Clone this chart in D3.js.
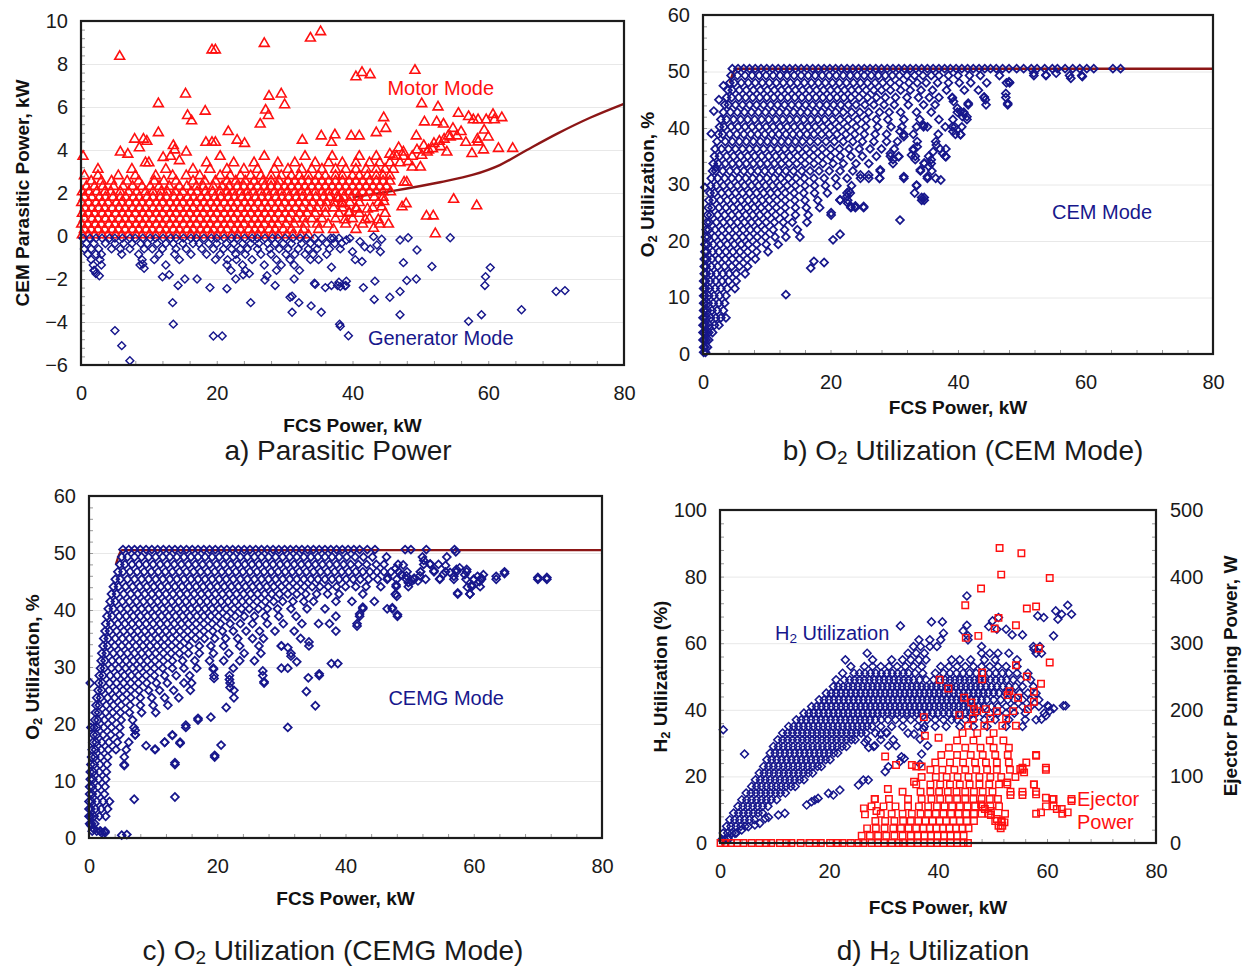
<!DOCTYPE html>
<html>
<head>
<meta charset="utf-8">
<script src="https://cdn.jsdelivr.net/npm/d3@7"></script>
<style>
  body { margin: 0; background: #fff; }
  svg { display: block; }
</style>
</head>
<body>
<div id="chart"></div>
<script>
// ---- tick values ----
const xTicks = [0, 20, 40, 60, 80];
const aYTicks = [-6, -4, -2, 0, 2, 4, 6, 8, 10];
const o2Ticks = [0, 10, 20, 30, 40, 50, 60];
const h2Ticks = [0, 20, 40, 60, 80, 100];
const ejTicks = [0, 100, 200, 300, 400, 500];

// ---- a) parasitic power ----
// model curve (visible part, the rest is buried in the cloud)
const aCurve = [[40,1.8],[46,2.1],[52.9,2.5],[57.8,2.85],[61.7,3.3],[65.7,4.0],[70.1,4.75],[75,5.5],[80,6.15]];
// motor mode, dense cloud read row by row: [y, [x...]]
const aMotorRows = [
  [0.05,[0.2,1.1,2.0,3.1,4.0,5.1,6.0,7.0,8.1,9.0,10.1,11.0,12.1,13.0,14.1,15.0,16.2,17.1,18.0,19.2,20.1,21.0,22.2,23.1,24.0,25.2,26.1,27.0,28.2,29.1,30.3,31.2,32.4,33.5]],
  [0.3,[0.5,1.5,2.5,3.5,4.6,5.5,6.5,7.6,8.5,9.6,10.5,11.6,12.5,13.6,14.5,15.6,16.5,17.6,18.6,19.5,20.6,21.5,22.6,23.5,24.7,25.6,26.5,27.7,28.6,29.8,31.0,32.8,35.0,37.2,40.5]],
  [0.55,[0.1,1.0,2.1,3.0,4.1,5.0,6.1,7.0,8.1,9.1,10.0,11.1,12.0,13.1,14.0,15.1,16.1,17.0,18.1,19.0,20.1,21.1,22.0,23.1,24.0,25.1,26.1,27.0,28.1,29.0,30.2,31.4,33.0,34.8,36.4,39.0,41.5,44.0]],
  [0.8,[0.5,1.6,2.5,3.6,4.5,5.6,6.5,7.5,8.6,9.5,10.6,11.5,12.6,13.5,14.6,15.5,16.6,17.5,18.6,19.5,20.6,21.6,22.5,23.6,24.5,25.6,26.5,27.6,28.5,29.6,30.6,31.7,32.8,34.0,35.5,37.5,40.0,42.5]],
  [1.05,[0.2,1.1,2.0,3.1,4.0,5.1,6.1,7.0,8.0,9.1,10.0,11.1,12.0,13.1,14.0,15.1,16.0,17.1,18.0,19.1,20.0,21.1,22.1,23.0,24.1,25.0,26.1,27.1,28.0,29.1,30.1,31.0,32.2,33.3,34.5,36.0,38.0,39.5,41.0,44.8]],
  [1.3,[0.6,1.6,2.6,3.5,4.6,5.6,6.5,7.6,8.6,9.5,10.6,11.5,12.6,13.6,14.5,15.6,16.5,17.6,18.5,19.6,20.5,21.6,22.5,23.6,24.6,25.5,26.6,27.5,28.6,29.5,30.6,31.6,32.6,33.7,34.8,36.0,37.2,38.5,40.5,43.0]],
  [1.55,[0.1,1.1,2.2,3.1,4.0,5.2,6.0,7.1,8.1,9.0,10.1,11.1,12.0,13.1,14.1,15.0,16.1,17.0,18.1,19.1,20.0,21.1,22.1,23.0,24.1,25.0,26.1,27.1,28.0,29.1,30.0,31.1,32.1,33.0,34.1,35.2,36.2,37.3,38.5,39.6,41.0,43.8]],
  [1.8,[0.5,1.6,2.7,3.6,4.7,5.8,6.6,7.7,8.6,9.7,10.6,11.7,12.6,13.7,14.6,15.7,16.6,17.7,18.6,19.7,20.6,21.7,22.6,23.7,24.6,25.7,26.6,27.6,28.7,29.6,30.6,31.7,32.6,33.7,34.6,35.7,36.6,37.7,38.7,39.8,40.8,42.0,43.2,44.5]],
  [2.05,[0.2,1.2,2.3,3.5,4.4,5.8,7.0,8.2,9.5,10.6,11.8,12.7,13.9,15.0,16.2,17.1,18.3,19.4,20.5,21.5,22.4,23.5,24.5,25.4,26.5,27.4,28.5,29.5,30.4,31.5,32.5,33.4,34.5,35.5,36.5,37.5,38.5,39.5,40.5,41.5,42.5,43.5,44.5,45.6]],
  [2.3,[0.8,2.0,3.2,4.8,6.2,7.6,9.0,10.2,11.5,13.0,14.5,15.6,17.0,18.0,19.5,20.8,21.8,23.0,24.0,25.0,26.0,27.0,28.0,29.0,30.0,31.0,32.0,33.0,34.0,35.0,36.0,37.0,38.0,39.0,40.0,41.0,42.0,43.0,44.0,45.0]],
  [2.55,[1.5,3.0,4.5,6.8,8.5,10.8,12.2,14.0,16.5,18.2,19.8,21.5,22.8,24.2,25.5,26.8,28.0,29.2,30.5,31.5,32.5,33.5,34.5,35.5,36.5,37.5,38.5,39.5,40.5,41.5,42.5,43.5,44.5,45.5]],
  [2.8,[0.5,2.5,5.5,8.0,11.0,13.5,15.5,17.5,20.5,22.0,23.5,25.0,26.5,28.0,29.5,31.0,32.2,33.5,35.0,36.0,37.5,38.5,40.0,41.0,42.2,43.5,44.5,45.5]],
  [3.1,[2.5,7.5,12.5,16.5,19.0,21.5,24.0,26.0,28.5,30.5,32.5,34.0,35.5,37.5,39.0,40.5,42.0,43.5,44.8,46.0]],
  [3.4,[10.0,18.5,22.5,25.5,29.0,31.5,34.5,36.5,38.5,40.5,42.5,44.0,45.5,47.0]],
  [3.7,[13.2,20.5,27.0,33.0,37.0,41.0,43.5,46.0,47.5]]
];
const aMotorPts = [[0.3,3.7],[5.7,8.35],[19.3,8.65],[19.8,8.65],[27,8.95],[33.8,9.2],[35.3,9.5],[40.5,7.4],[41.4,7.6],[42.6,7.5],[49.2,7.7],
  [15.4,6.6],[11.4,6.15],[15.7,5.6],[16.3,5.35],[18.3,5.8],[26.4,5.2],[27.2,5.85],[27.7,6.5],[27.6,5.6],[29.5,6.6],[30,6.1],
  [11.4,4.8],[7.9,4.5],[9.2,4.5],[9.7,4.4],[5.8,3.9],[6.9,3.8],[8.6,4.1],[21.7,4.85],[23,4.45],[24.1,4.3],[19.3,4.35],[19.8,4.35],[18.4,4.35],[13.6,4.2],[13.8,4.0],[14.5,3.5],[15.5,3.9],[12.1,3.65],[9.5,3.4],
  [35.4,4.65],[37.4,4.7],[36.9,4.35],[32.6,4.45],[39.8,4.65],[41,4.65],[43.5,4.8],[44.6,5.5],[44.9,5.0],[49.4,4.65],[50.2,6.15],[50.6,5.3],[52.6,6.0],[52.4,5.3],[53.4,5.2],[54.1,4.65],[55.4,4.65],
  [55.6,5.7],[57.1,5.55],[57.8,5.4],[58.5,5.4],[59.7,5.4],[60.7,5.65],[60.9,5.4],[62,5.5],[59.4,4.92],[60,4.6],[58.5,4.37],[57.6,3.83],[59.3,4.0],[61.5,4.07],[63.6,4.07],
  [56.7,4.35],[58.4,4.5],[54.8,5.0],[56,4.85],[51.8,4.05],[53,4.15],[53.9,3.9],[50,3.2],[48.2,3.45],[48.8,3.2],[47.6,2.5],[48,2.5],[54.9,1.7],[58.3,1.4],[50.9,0.92],[51.9,0.93],[52.2,0.1],
  [47.3,1.35],[47.9,1.5],[44.3,1.35],[44.6,1.6],[45.3,0.55],[43.1,0.35],[43.8,0.75],[42.2,1.25],[40.6,1.25],[39.5,1.1],[38.9,0.75],[41.9,0.75],[38,1.75],[38.5,1.5],
  [45.5,3.8],[46.5,3.7],[47.5,3.9],[46.8,4.1],[48.8,3.7],[49.5,4.0],[50.5,4.2],[51.2,4.0],[52.0,4.3],[52.8,4.4],[53.5,4.5],[54.4,4.6],[51,3.9],[50.2,3.75]];
// generator mode
const aGenRows = [
  [-0.1,[0.3,1.3,2.2,3.1,4.2,5.0,6.1,7.2,8.0,9.1,10.2,11.0,12.1,13.2,14.0,15.1,16.2,17.0,18.1,19.2,20.0,21.1,22.2,23.0,24.1,25.2,26.0,27.1,28.2,29.0,30.1,31.2,32.3,33.2,34.4,35.5,36.8,38.0]],
  [-0.35,[0.8,1.9,3.6,5.0,6.3,7.5,8.8,9.8,11.2,12.5,13.6,15.0,16.5,17.4,18.8,20.0,21.4,22.5,23.8,25.0,26.2,27.5,28.6,29.8,31.0,32.5,33.8,35.0,36.2,37.4]],
  [-0.6,[0.5,1.5,2.6,4.5,5.8,7.2,9.3,10.5,12.0,14.0,15.5,17.8,19.5,21.0,22.2,23.5,24.5,26.0,27.8,29.2,30.5,32.0,33.5,34.8,36.6,38.2]],
  [-0.85,[1.0,2.2,3.0,6.0,8.5,11.5,13.8,16.2,18.5,20.5,22.8,24.2,26.5,28.0,30.2,31.5,33.0,34.2,36.2]],
  [-1.1,[1.5,2.8,9.0,10.8,14.5,19.8,21.6,22.9,25.2,28.8,30.8,33.8,35.0]],
  [-1.35,[1.8,3.0,8.7,12.5,21.5,23.8,27.0,29.5,31.4]],
  [-1.6,[2.0,22.1,24.2,28.8,32.2]]
];
const aGenPts = [[5,-4.4],[6,-5.1],[7.2,-5.8],[13.5,-3.1],[13.6,-4.1],[19.5,-4.65],[20.8,-4.65],[25,-3.1],[31.1,-3.55],[32.1,-3.1],[31.1,-2.8],[33.9,-3.25],[35.4,-3.55],[38.1,-4.1],[39.4,-4.64],
  [36,-2.4],[36.9,-2.3],[38,-2.15],[39,-2.3],[37.8,-2.3],[34.4,-2.2],[41.6,-2.4],[43.2,-2.95],[43.3,-2.1],[45.5,-2.85],[47,-3.66],[47,-2.58],[48,-2.07],[47.5,-1.24],[49.4,-2.0],[49.5,-0.65],[51.7,-1.42],
  [54.4,-0.08],[48.2,-0.08],[47,-0.19],[44.3,-0.15],[43.1,-0.03],[57.1,-3.97],[59,-3.66],[59.5,-2.3],[59.6,-1.89],[60.3,-1.47],[64.9,-3.43],[70,-2.58],[71.3,-2.54],
  [19,-2.4],[21.5,-2.45],[22.8,-2.0],[24.8,-1.75],[27.1,-2.05],[27.4,-1.85],[28.6,-2.3],[17.1,-2.0],[14.3,-2.3],[15.3,-2.0],[12,-1.9],[13,-1.8],[9.1,-1.3],[9.3,-1.5],[2.2,-1.75],[2.7,-1.85],[1.9,-1.6],
  [23.9,-1.8],[30.8,-2.85],[31.4,-2.0],[34.5,-2.25],[36.9,-1.45],[39.1,-2.1],[38.2,-2.35],[38.9,-2.32],[38.2,-4.2],
  [38.4,-0.34],[39.1,-0.19],[39.6,-0.11],[41.1,-0.26],[41.8,-0.5],[43.6,-0.42],[44.1,-0.73],[40,-0.73],[40.4,-1.1],[41.4,-1.19],[42.6,-0.6],[37.2,-0.1]];

// ---- b) O2 utilization, CEM mode ----
const o2Limit = [[4.2,48],[5.2,50.5],[80,50.5]];
const bRows = [
  [50.5,[4.6,5.5,6.4,7.3,8.2,9.1,10.0,10.9,11.8,12.7,13.6,14.5,15.4,16.3,17.2,18.1,19.0,19.9,20.8,21.7,22.6,23.5,24.4,25.3,26.2,27.1,28.0,28.9,29.8,30.7,31.6,32.5,33.4,34.3,35.2,36.1,37.0,37.9,38.8,39.7,40.6,41.5,42.4,43.3,44.2,45.1,46.0,47.0,48.0,49.2,50.3,51.5,52.4,53.6,54.8,55.6,56.8,58.0,59.1,60.2,61.3,64.3,65.5]],
  [49.3,[4.4,5.4,6.6,7.7,8.8,9.9,11.0,12.1,13.2,14.3,15.4,16.5,17.6,18.7,19.8,20.9,22.0,23.1,24.2,25.3,26.4,27.5,28.6,29.7,30.8,32.0,33.2,34.5,35.8,37.0,38.5,40.0,41.8,43.5,46.5,51.9,53.8,57.5,59.4]],
  [48.0,[4.2,4.9,6.0,7.1,8.2,9.3,10.4,11.5,12.6,13.7,14.8,15.9,17.0,18.1,19.2,20.3,21.4,22.5,23.6,24.7,25.8,27.0,28.2,29.4,30.8,32.3,33.6,35.0,36.8,38.5,40.2,42.0,44.5,47.6,48.1]],
  [46.7,[3.9,4.6,5.7,6.8,7.9,9.0,10.1,11.2,12.3,13.4,14.5,15.6,16.7,17.8,18.9,20.0,21.1,22.2,23.3,24.4,25.6,26.8,28.0,29.4,31.0,32.5,34.2,36.0,38.2,41.0,43.2]],
  [45.4,[3.7,4.5,5.6,6.7,7.8,8.9,10.0,11.1,12.2,13.3,14.4,15.5,16.6,17.7,18.8,19.9,21.0,22.1,23.2,24.5,25.8,27.2,28.6,30.2,32.0,33.8,35.5,37.0,39.1,44.1,47.5]],
  [44.1,[3.4,4.0,5.1,6.2,7.3,8.4,9.5,10.6,11.7,12.8,13.9,15.0,16.1,17.2,18.3,19.4,20.5,21.6,22.8,24.0,25.4,26.8,28.4,30.0,32.2,34.6,36.4,41.6,44.4,47.8]],
  [42.8,[3.2,4.3,5.4,6.5,7.6,8.7,9.8,10.9,12.0,13.1,14.2,15.3,16.4,17.5,18.6,19.7,20.8,22.0,23.3,24.6,26.0,27.7,29.2,31.0,33.5,35.8,39.9,40.9]],
  [41.5,[2.8,3.7,4.8,5.9,7.0,8.1,9.2,10.3,11.4,12.5,13.6,14.7,15.8,16.9,18.0,19.1,20.3,21.5,22.8,24.2,25.6,27.2,29.0,31.5,34.0,37.0,39.2,41.4]],
  [40.2,[2.6,3.3,4.4,5.5,6.6,7.7,8.8,9.9,11.0,12.1,13.2,14.3,15.4,16.5,17.6,18.8,20.0,21.3,22.6,24.0,25.5,27.4,29.5,31.2,33.5,34.6,35.2,38.0,39.1,40.6]],
  [38.9,[2.4,3.1,4.2,5.3,6.4,7.5,8.6,9.7,10.8,11.9,13.0,14.1,15.2,16.3,17.4,18.6,19.8,21.0,22.4,23.8,25.3,27.0,28.8,31.5,33.0,36.9,39.6,40.4]],
  [37.6,[2.2,3.5,4.6,5.7,6.8,7.9,9.0,10.1,11.2,12.3,13.4,14.5,15.6,16.8,18.0,19.3,20.6,22.0,23.5,25.0,26.8,28.8,30.5,33.6,36.5]],
  [36.3,[1.9,2.9,4.0,5.1,6.2,7.3,8.4,9.5,10.6,11.7,12.8,13.9,15.0,16.2,17.4,18.7,20.0,21.4,22.9,24.5,26.2,28.0,30.0,33.0,37.2,38.1]],
  [35.0,[1.8,2.6,3.7,4.8,5.9,7.0,8.1,9.2,10.3,11.4,12.5,13.6,14.8,16.0,17.3,18.6,20.0,21.5,23.2,25.0,27.2,29.4,30.7,33.3,35.4,38.0]],
  [33.7,[1.6,2.4,3.5,4.6,5.7,6.8,7.9,9.0,10.1,11.2,12.3,13.5,14.7,16.0,17.4,18.8,20.4,22.0,24.0,26.0,29.8,34.7,35.8]],
  [32.4,[1.5,2.0,3.1,4.2,5.3,6.4,7.5,8.6,9.7,10.8,11.9,13.0,14.2,15.5,16.8,18.2,19.8,21.5,23.5,27.8,34.1,35.9]],
  [31.1,[1.3,2.3,3.4,4.5,5.6,6.7,7.8,8.9,10.0,11.1,12.2,13.4,14.6,15.9,17.4,19.0,20.8,22.6,24.7,26.0,27.7,31.5,35.2,36.5]],
  [29.8,[1.2,2.1,3.2,4.3,5.4,6.5,7.6,8.7,9.8,10.9,12.0,13.2,14.5,16.0,17.5,19.2,21.0,23.3,33.5]],
  [28.5,[1.1,1.8,2.9,4.0,5.1,6.2,7.3,8.4,9.5,10.6,11.7,12.9,14.3,15.8,17.5,19.5,22.6,23.1,33.2]],
  [27.2,[0.9,1.6,2.7,3.8,4.9,6.0,7.1,8.2,9.3,10.4,11.6,12.9,14.4,16.0,18.0,21.5,22.7,34.3,34.7]],
  [25.9,[0.8,1.4,2.5,3.6,4.7,5.8,6.9,8.0,9.1,10.3,11.5,12.9,14.5,16.2,18.3,23.2,23.9,25.2]],
  [24.6,[0.7,1.2,2.3,3.4,4.5,5.6,6.7,7.8,8.9,10.1,11.4,12.8,14.5,16.5,20.1]],
  [23.3,[0.6,1.0,2.1,3.2,4.3,5.4,6.5,7.6,8.7,9.9,11.2,12.6,14.0,16.3]],
  [22.0,[0.5,0.9,1.9,3.0,4.1,5.2,6.3,7.4,8.5,9.7,11.0,12.8,14.8]],
  [20.7,[0.4,0.8,1.8,2.9,4.0,5.1,6.2,7.3,8.5,9.8,11.3,13.0,15.2]],
  [19.4,[0.3,0.7,1.6,2.7,3.8,4.9,6.0,7.1,8.4,9.9,11.8]],
  [18.1,[0.3,0.6,1.5,2.5,3.6,4.7,5.8,7.0,8.4,10.2]],
  [16.8,[0.2,0.6,1.4,2.4,3.5,4.6,5.7,6.9,8.2]],
  [15.5,[0.2,0.5,1.3,2.3,3.4,4.5,5.7,7.0]],
  [14.2,[0.2,0.5,1.2,2.1,3.1,4.1,5.2,6.6]],
  [12.9,[0.1,0.4,1.1,2.0,3.0,4.0,5.2]],
  [11.6,[0.1,0.4,1.0,1.9,2.8,3.8,5.0]],
  [10.3,[0.1,0.3,0.9,1.7,2.6,3.6]],
  [9.0,[0.1,0.3,0.8,1.6,2.5,3.4]],
  [7.7,[0.1,0.3,0.7,1.4,2.2,3.2]],
  [6.4,[0.0,0.2,0.6,1.2,2.0,2.8,3.6]],
  [5.1,[0.0,0.2,0.5,1.0,1.8,2.5]],
  [3.8,[0.0,0.2,0.5,0.9,1.5]],
  [2.5,[0.0,0.2,0.5,0.9]],
  [1.2,[0.1,0.3,0.7]],
  [0.3,[0.1,0.4]]
];
const bPts = [[0.3,29.5],[13,10.5],[30.9,23.7],[16.9,15.2],[17.4,16.4],[19,16.2],[20.4,20.2],[21.5,21.2],[20.1,25],[21.5,27.3],[22.6,27.9],[22.7,26.7],[23.2,26.1],[23.9,26.2],[25.2,26.1],[22.9,28.8],[24.7,31.7],[26,31.7],[27.7,31.1],[27.8,32.6],
  [29.4,35.5],[29.8,34.4],[30.7,34.9],[31.5,31.4],[30.9,39.4],[31.5,38.5],[32.7,35.2],[33,36.1],[33.3,34.4],[33.6,36.7],[33.5,29.9],[34.3,27.7],[34.7,27.7],[34.1,32.6],[34.7,33.8],[35.4,33.2],[35.8,34.4],[36.1,35.8],[35.2,31.4],[37.3,30.8],
  [37.6,35.5],[38.1,34.9],[36.6,37],[34.6,40.5],[39.2,39.4],[39.5,40.2],[40.4,38.8],[39.9,43.5],[40.4,42.9],[40.9,42.6],[41.4,42],[40.7,42],[39.1,45.3],[39.3,44.7],[41.6,44.4],[44.1,45.5],[44.3,45],
  [47.5,46.1],[47.8,44.4],[48,48.2],[53.8,49.4],[57.7,48.8],[59.5,49.1],[51.9,49.7],[55.4,49.7],[2,33],[1.3,39],[1.7,43],[2.5,45],[3.2,47.5]];

// ---- c) O2 utilization, CEMG mode ----
const cRows = [
  [50.6,[5.3,6.2,7.1,8.0,8.9,9.8,10.7,11.6,12.5,13.4,14.3,15.2,16.1,17.0,17.9,18.8,19.7,20.6,21.5,22.4,23.3,24.2,25.1,26.0,26.9,27.8,28.7,29.6,30.5,31.4,32.3,33.2,34.1,35.0,35.9,36.8,37.7,38.6,39.5,40.4,41.3,42.2,43.4,44.6,49.3,50.2,52.6,57.0]],
  [49.3,[5.1,6.0,7.1,8.2,9.3,10.4,11.5,12.6,13.7,14.8,15.9,17.0,18.1,19.2,20.3,21.4,22.5,23.6,24.7,25.8,26.9,28.0,29.1,30.2,31.3,32.4,33.5,34.6,35.7,36.8,37.9,39.0,40.2,41.5,42.8,44.2,46.4,52.0,55.8]],
  [48.0,[4.8,5.6,6.7,7.8,8.9,10.0,11.1,12.2,13.3,14.4,15.5,16.6,17.7,18.8,19.9,21.0,22.1,23.2,24.3,25.4,26.5,27.6,28.7,29.8,30.9,32.0,33.1,34.2,35.3,36.4,37.5,38.6,39.7,40.8,42.0,43.3,44.8,46.0,48.2,52.2,53.2,54.5]],
  [46.7,[4.5,5.3,6.4,7.5,8.6,9.7,10.8,11.9,13.0,14.1,15.2,16.3,17.4,18.5,19.6,20.7,21.8,22.9,24.0,25.1,26.2,27.3,28.4,29.5,30.6,31.7,32.8,33.9,35.0,36.1,37.2,38.3,39.4,40.5,41.6,42.7,43.8,44.9,46.0,47.1,48.3,49.6,51.7,53.8,55.6,57.3,58.9,64.8]],
  [45.4,[4.1,4.9,6.0,7.1,8.2,9.3,10.4,11.5,12.6,13.7,14.8,15.9,17.0,18.1,19.2,20.3,21.4,22.5,23.6,24.7,25.8,26.9,28.0,29.1,30.2,31.3,32.4,33.5,34.6,35.7,36.8,37.9,39.0,40.1,41.2,42.3,43.6,45.0,46.5,48.0,49.5,50.7,52.5,54.7,56.9,58.8,60.0,61.2,63.5,70.0,71.4]],
  [44.1,[3.8,4.6,5.7,6.8,7.9,9.0,10.1,11.2,12.3,13.4,14.5,15.6,16.7,17.8,18.9,20.0,21.1,22.2,23.3,24.4,25.5,26.6,27.7,28.8,30.0,31.2,32.4,33.6,34.8,36.0,37.3,38.6,40.0,41.6,43.2,45.5,47.9,49.8,59.7,61.0]],
  [42.8,[3.5,4.3,5.4,6.5,7.6,8.7,9.8,10.9,12.0,13.1,14.2,15.3,16.4,17.5,18.6,19.7,20.8,21.9,23.0,24.1,25.2,26.3,27.4,28.5,29.7,31.0,32.4,33.8,35.5,37.2,39.0,42.7,47.8,57.5,59.4]],
  [41.5,[3.3,4.1,5.2,6.3,7.4,8.5,9.6,10.7,11.8,12.9,14.0,15.1,16.2,17.3,18.4,19.5,20.6,21.7,22.8,23.9,25.0,26.2,27.5,28.8,30.2,31.8,33.5,35.0,38.5,41.0,44.5]],
  [40.2,[3.0,3.8,4.9,6.0,7.1,8.2,9.3,10.4,11.5,12.6,13.7,14.8,15.9,17.0,18.1,19.2,20.3,21.4,22.6,23.8,25.0,26.4,27.8,29.4,31.5,34.0,36.8,42.7,46.5,47.3]],
  [38.9,[2.8,3.6,4.7,5.8,6.9,8.0,9.1,10.2,11.3,12.4,13.5,14.6,15.7,16.8,17.9,19.0,20.2,21.5,22.8,24.2,25.8,27.5,29.6,32.3,38.5,42.2,48.1]],
  [37.6,[2.6,3.4,4.5,5.6,6.7,7.8,8.9,10.0,11.1,12.2,13.3,14.4,15.5,16.7,17.9,19.2,20.5,22.0,23.6,25.5,27.8,30.3,33.2,35.8,37.5,41.8]],
  [36.3,[2.5,3.2,4.3,5.4,6.5,7.6,8.7,9.8,10.9,12.0,13.1,14.2,15.4,16.6,17.9,19.3,20.8,22.5,24.5,26.6,29.0,32.0,38.5]],
  [35.0,[2.3,3.0,4.1,5.2,6.3,7.4,8.5,9.6,10.7,11.8,12.9,14.1,15.3,16.6,18.0,19.6,21.3,23.2,25.5,27.2,33.0]],
  [33.7,[2.2,2.9,4.0,5.1,6.2,7.3,8.4,9.5,10.6,11.7,12.9,14.2,15.6,17.2,19.0,21.0,23.5,26.5,30.0,34.3]],
  [32.4,[2.0,2.7,3.8,4.9,6.0,7.1,8.2,9.3,10.4,11.6,12.8,14.1,15.5,17.2,19.4,21.8,24.2,26.8,31.5]],
  [31.1,[1.9,2.5,3.6,4.7,5.8,6.9,8.0,9.1,10.3,11.6,13.0,14.6,16.5,18.8,21.0,23.5,25.8]],
  [29.8,[1.8,2.4,3.5,4.6,5.7,6.8,7.9,9.0,10.2,11.5,13.0,14.8,16.8,19.4,22.5,30.0,31.0]],
  [28.5,[1.6,2.2,3.3,4.4,5.5,6.6,7.7,8.9,10.2,11.8,13.6,15.7,19.5,21.9,27.1,35.9]],
  [27.2,[0.2,1.5,2.1,3.2,4.3,5.4,6.5,7.7,9.0,10.5,12.2,14.8,16.0,22.0,27.3]],
  [25.9,[1.4,2.0,3.1,4.2,5.3,6.5,7.8,9.3,11.0,13.2,15.8,22.6]],
  [24.6,[1.2,1.8,2.9,4.0,5.2,6.5,8.0,9.8,11.8,14.0]],
  [23.3,[1.1,1.6,2.7,3.8,5.0,6.4,8.0,10.0,12.3]],
  [22.0,[1.0,1.5,2.6,3.7,4.9,6.3,8.2,10.4]],
  [20.7,[0.9,1.4,2.4,3.6,5.0,6.8,17.0]],
  [19.4,[0.3,0.8,1.3,2.3,3.5,4.8,7.0,15.1]],
  [18.1,[0.7,1.2,2.2,3.4,4.8,7.2,13.0]],
  [16.8,[0.6,1.1,2.0,3.1,4.4,6.2,11.8,14.2]],
  [15.5,[0.5,1.0,1.9,3.0,4.2,5.8,10.3]],
  [14.2,[0.4,0.9,1.8,2.9,5.5,19.6]],
  [12.9,[0.3,0.8,1.7,2.8,5.5,13.4]],
  [11.6,[0.2,0.7,1.6,2.7]],
  [10.3,[0.2,0.6,1.5,2.6]],
  [9.0,[0.1,0.5,1.4,2.5]],
  [7.7,[0.1,0.5,1.3,2.4]],
  [6.4,[0.0,0.4,1.2,2.2,3.2]],
  [5.1,[0.0,0.3,1.0,1.9,2.9]],
  [3.8,[0.0,0.3,0.8,1.6,2.6]],
  [2.5,[0.1,0.4,0.9]],
  [1.2,[0.5,1.2,1.8,2.5]]
];
const cPts = [[31,19.4],[35.3,23.2],[33.9,25.7],[34.2,28.1],[35.9,28.8],[37.8,30.6],[38.8,30.6],[32.4,30.9],[31,33.4],[30,33.7],[31.5,31.9],[34.3,34.4],[27.3,27.4],[27.1,29.3],[21.4,22.9],[22.6,24.6],[22,26.4],[21.9,27.8],
  [19.6,14.5],[20.6,16.3],[19,21.2],[17,21],[15.1,19.8],[19.5,28],[19.4,29.6],[13.4,7.2],[7.05,6.8],[13.4,13.2],[14.2,16.6],[13,18],[10.3,15.6],[11.8,16.8],[8.9,16.2],
  [5.1,0.5],[5.9,0.6],[2,0.9],[2.5,0.9],[1.7,1.2],[0.3,2.2],[0.7,1.6],[5.5,12.7],[7.2,18.1],[7.2,18.9],
  [41.8,37.2],[42.7,40.5],[42.2,39.3],[47.3,40.4],[48.1,39.2],[47.8,42.7],[48,42.4],[47.8,47.3],[49,47.9],[46.6,45.6],[47.9,44.4],[48.7,46.2],[49.5,46],[50.7,45.6],[51.6,46],[51.3,45.1],[50.4,45.1],[49.8,44.8],[51.7,46.7],
  [52.2,48.7],[53.2,48.1],[53.8,46.9],[55.3,46.3],[55.6,47.8],[56.3,46.6],[54.7,45.5],[56.9,45.9],[57.3,47.1],[57.8,47.4],[58.6,46.2],[58.9,47.1],[57.5,43],[59.4,42.8],[59,44],[59.7,44.4],[60,45.3],[60.6,45.9],[61.2,45.6],[61.5,46.2],[60.9,45],
  [57.2,50.2],[63.5,45.9],[64.8,46.4],[70,45.7],[71.4,45.7]];

// ---- d) H2 utilization (%) and ejector pumping power (W) ----
const dH2Rows = [
  [1,[0.3,0.9,1.5]],
  [3,[0.6,1.4,2.2,3.0]],
  [5,[1.2,2.0,2.9,3.8,4.6]],
  [7,[1.8,2.7,3.6,4.5,5.4,6.3]],
  [9,[2.5,3.4,4.3,5.2,6.1,7.0,7.8]],
  [11,[3.3,4.2,5.1,6.0,6.9,7.8,8.8]],
  [13,[4.0,4.9,5.8,6.7,7.6,8.5,9.4,10.4]],
  [15,[4.8,5.7,6.6,7.5,8.4,9.3,10.2,11.1,12.0]],
  [17,[5.8,6.7,7.6,8.5,9.4,10.3,11.2,12.1,13.0,13.8]],
  [19,[6.5,7.4,8.3,9.2,10.1,11.0,11.9,12.8,13.7,14.6,15.4]],
  [21,[7.2,8.1,9.0,9.9,10.8,11.7,12.6,13.5,14.4,15.3,16.2,17.0]],
  [23,[8.0,8.9,9.8,10.7,11.6,12.5,13.4,14.3,15.2,16.1,17.0,17.9,18.6]],
  [25,[8.6,9.5,10.4,11.3,12.2,13.1,14.0,14.9,15.8,16.7,17.6,18.5,19.4,20.2]],
  [27,[9.2,10.1,11.0,11.9,12.8,13.7,14.6,15.5,16.4,17.3,18.2,19.1,20.0,20.9,21.6]],
  [29,[9.8,10.7,11.6,12.5,13.4,14.3,15.2,16.1,17.0,17.9,18.8,19.7,20.6,21.5,22.4,23.2,28.2]],
  [31,[10.6,11.5,12.4,13.3,14.2,15.1,16.0,16.9,17.8,18.7,19.6,20.5,21.4,22.3,23.2,24.1,24.8,27.0,29.5,31.8]],
  [33,[11.5,12.4,13.3,14.2,15.1,16.0,16.9,17.8,18.7,19.6,20.5,21.4,22.3,23.2,24.1,25.0,25.9,26.8,28.5,30.6,34.5]],
  [35,[12.6,13.5,14.4,15.3,16.2,17.1,18.0,18.9,19.8,20.7,21.6,22.5,23.4,24.3,25.2,26.1,27.0,27.9,29.5,31.5,33.5,36.3,37.5,39.5,41.5,44.0,46.5,49.0,52.5,55.5]],
  [37,[14.0,14.9,15.8,16.7,17.6,18.5,19.4,20.3,21.2,22.1,23.0,23.9,24.8,25.7,26.6,27.5,28.5,29.6,30.8,32.2,33.6,35.0,36.5,38.0,39.5,41.0,42.5,43.5,45.0,46.5,48.5,50.5,53.0,56.0,58.0]],
  [39,[15.4,16.3,17.2,18.1,19.0,19.9,20.8,21.7,22.6,23.5,24.4,25.3,26.2,27.1,28.0,28.9,29.8,30.7,31.6,32.5,33.4,34.3,35.2,36.1,37.0,38.0,39.0,40.0,41.0,42.0,43.0,44.0,45.0,46.0,47.0,48.2,49.5,51.0,52.5,54.0,56.0,59.5]],
  [41,[16.8,17.7,18.6,19.5,20.4,21.3,22.2,23.1,24.0,24.9,25.8,26.7,27.6,28.5,29.4,30.3,31.2,32.1,33.0,33.9,34.8,35.7,36.6,37.5,38.4,39.3,40.2,41.1,42.0,42.9,43.8,44.7,45.6,46.5,47.4,48.5,49.8,51.0,52.5,54.0,55.5,57.0,58.5,60.3]],
  [43,[18.2,19.1,20.0,20.9,21.8,22.7,23.6,24.5,25.4,26.3,27.2,28.1,29.0,29.9,30.8,31.7,32.6,33.5,34.4,35.3,36.2,37.1,38.0,38.9,39.8,40.7,41.6,42.5,43.4,44.3,45.2,46.1,47.0,48.0,49.0,50.2,51.5,52.8,54.0,55.5,57.0,58.5]],
  [45,[19.5,20.4,21.3,22.2,23.1,24.0,24.9,25.8,26.7,27.6,28.5,29.4,30.3,31.2,32.1,33.0,33.9,34.8,35.7,36.6,37.5,38.4,39.3,40.2,41.1,42.0,42.9,43.8,44.7,45.6,46.5,47.4,48.3,49.2,50.2,51.2,52.4,53.6,55.0,56.5,58.0]],
  [47,[20.8,21.7,22.6,23.5,24.4,25.3,26.2,27.1,28.0,28.9,29.8,30.7,31.6,32.5,33.4,34.3,35.2,36.1,37.0,37.9,38.8,39.7,40.6,41.5,42.4,43.3,44.2,45.1,46.0,46.9,47.8,48.8,49.8,50.8,51.9,53.0,54.2,55.5,57.5]],
  [49,[21.3,22.8,23.8,24.7,25.6,26.5,27.4,28.3,29.2,30.1,31.0,31.9,32.8,33.7,34.6,35.5,36.6,37.8,39.2,40.4,41.3,42.2,43.1,44.0,44.9,45.8,46.7,47.6,48.6,49.6,50.6,51.6,52.6,53.8,55.2,57.0]],
  [51,[22.5,24.6,25.6,26.6,27.6,28.6,29.6,30.6,31.6,32.6,33.6,34.6,35.8,37.2,39.5,41.0,42.2,43.4,44.6,45.8,47.0,48.2,49.4,50.6,51.8,53.0,54.5,56.5]],
  [53,[24.0,26.5,28.0,29.5,31.0,32.5,34.0,35.5,37.0,40.5,42.0,43.5,45.0,46.5,48.0,49.5,51.0,52.5,54.5]],
  [55,[23.0,28.0,31.5,33.5,35.0,36.5,37.8,42.5,44.0,46.0,48.5,50.5,54.5]],
  [57,[27.0,34.5,36.0,37.5,48.0,49.5,51.0,53.0,58.0,59.0]],
  [59,[35.5,36.8,38.5,39.8,48.0,57.5,58.7]],
  [61,[36.5,38.5,40.5,45.5]]
];
const dH2Pts = [[0.6,34],[4.5,26.7],[33.1,65.2],[38.8,66.4],[40.8,66.4],[41,63],[45.3,74.2],[45.3,65.4],[44.6,63.7],[45.5,62.2],[49.3,65],[50,66.7],[50.8,64.2],[51.1,67.7],[52.5,64.2],[53.6,62.5],[55.5,62.5],[57.6,58.2],
  [61.2,62.2],[61.6,69.7],[62,67.2],[62.7,68.7],[63.8,71.4],[64.5,68.7],[58.3,68.2],[59.4,67.7],[63,41.2],[63.4,41.2],[59,37.2],[59.8,38.2],[60.5,39.7],[60.1,41.2],[61.2,40.4],
  [0.5,0.8],[1.5,1.5],[2.75,2.9],[3.98,3.9],[5.2,4.9],[6.4,5.4],[7.3,5.9],[8.3,7.4],[8.9,7.7],[10.7,8.4],[11.9,8.9],[15.9,11.4],[16.8,12.4],[17.4,12.9],[18,13.4],[19.9,14.9],[20.8,14.4],[22,15.9],
  [25.4,17.4],[26.3,18.9],[27.2,18.9],[30.3,21.4],[30.9,22.9],[33,24.4],[33.3,25.9],[33.8,25.4],[37,26.7],[38.1,29.2],[36.7,23.7],
  [26.6,30.2],[27.3,28.7],[28.4,29.2],[29.5,32.7],[30.5,33.2],[30.9,29.2],[32.3,29.2],[35.6,32.7],[36.7,31.2],[37.3,34.2]];
// ejector pumping power, W (right axis)
const dEjZero = [0.1,1.0,2.0,3.2,4.3,5.8,7.2,8.5,9.4,11.0,12.2,13.1,14.8,16.4,17.6,18.5,20.2,21.6,22.5,24.0,25.4,26.3,27.8,29.0,30.1,31.5,32.8,33.6,35.0,36.3,37.4,38.7,39.8,41.0,42.3,43.5,44.7,45.5];
const dEjRows = [
  [11,[26.0,27.5,29.0,30.5,32.0,33.5,35.0,36.3,37.5,38.7,39.9,41.1,42.3,43.5,44.7]],
  [22,[27.0,28.6,30.2,31.8,33.2,34.6,36.0,37.3,38.5,39.7,40.9,42.1,43.3,44.5,45.6,51.5]],
  [33,[28.5,30.3,32.0,33.6,35.0,36.4,37.7,39.0,40.3,41.5,42.8,44.0,45.3,46.6,50.5,51.6]],
  [44,[29.5,31.5,33.5,35.2,36.8,38.2,39.6,41.0,42.4,43.8,45.2,46.6,48.0,49.3,52.3,58.0,62.8]],
  [55,[27.8,30.0,32.2,34.5,36.5,38.2,39.8,41.2,42.6,44.0,45.4,46.8,48.2,49.6,51.2,59.8,61.2]],
  [66,[28.4,31.0,34.5,37.0,38.8,40.4,42.0,43.5,45.0,46.5,48.0,49.5,51.0,61.0,64.5]],
  [77,[33.5,36.8,38.6,40.2,41.8,43.4,45.0,46.6,48.2,50.0,53.3,55.5,58.0]],
  [88,[36.0,38.6,40.4,42.2,44.0,45.8,47.6,49.4,51.2,52.7,57.6]],
  [99,[37.0,39.6,41.6,43.6,45.6,47.6,49.6,51.6,54.2]],
  [110,[38.6,40.8,43.0,45.0,47.0,49.0,50.8,53.2,55.5,59.8]],
  [121,[39.5,42.2,44.6,46.8,48.8,50.8,53.0,56.2]],
  [132,[40.6,43.5,46.0,48.2,50.5,52.8,58.0]],
  [143,[42.0,45.0,47.8,50.2,53.0]],
  [154,[43.5,46.5,49.5,52.0]],
  [165,[44.5,47.2,50.2]],
  [176,[45.5,48.5,51.8,54.3]],
  [187,[46.4,49.6,52.5]],
  [198,[47.2,50.8,53.8]]
];
const dEjPts = [[51.3,443],[55.3,435],[51.6,403],[60.5,398],[47.9,382],[45,357],[58,355],[56.3,352],[50.4,322],[51.1,338],[54.3,327],[47.4,311],[45.1,308],[54.3,267],[58.5,292],[60.5,271],
  [48.1,256],[48.1,246],[56.3,250],[40.3,245],[41.9,232],[44.8,218],[46.1,211],[46.6,201],[48.8,201],[43.9,192],[53.1,228],[52.8,222],[54.7,218],[57.6,227],[58.9,239],[57.6,212],[56.5,201],
  [37.4,189],[37.6,161],[40.1,158],[30.3,130],[32.3,117],[30.8,81],[28.4,66],[26.4,52],[28.7,48],[26.6,43],[35.2,117],[36,115],[35.6,92],[37,115],
  [58,131],[59.8,113],[57.6,88],[58,73],[59.8,68],[61.2,66],[61.8,51],[63.8,46],[64.5,63],[62.7,51],[58.9,46],[52.7,91],[53.3,72],[55.5,72],
  [49.7,42],[50.8,36],[51.7,32],[52.2,31],[51.1,26],[51.8,26],[47.9,58],[48.6,51],[49.7,48],[55.5,113],[55.8,106],[55.1,111]];

// ---------------------------------------------------------------
const FONT = '"Liberation Sans", Arial, Helvetica, sans-serif';
const NAVY = "#17178c", RED = "#ff1010", MAROON = "#8c1616";

const svg = d3.select("#chart").append("svg")
  .attr("width", 1243).attr("height", 970)
  .style("font-family", FONT);

const rowsToPts = rows => rows.flatMap(([y, xs]) => xs.map(x => [x, y]));

// text with "_" prefixed parts drawn as subscripts
function richText(t, parts, size) {
  let down = false;
  parts.forEach(p => {
    const sub = p[0] === "_";
    const ts = t.append("tspan").text(sub ? p.slice(1) : p);
    if (sub) { ts.attr("font-size", size * 0.68).attr("dy", size * 0.25); down = true; }
    else if (down) { ts.attr("dy", -size * 0.25); down = false; }
  });
  return t;
}

function makePanel(cfg) {
  const g = svg.append("g");
  const x = d3.scaleLinear().domain([0, 80]).range([cfg.left, cfg.right]);
  const y = d3.scaleLinear().domain(cfg.yDom).range([cfg.bottom, cfg.top]);
  const w = cfg.right - cfg.left;

  // faint gridlines
  g.append("g").call(d3.axisLeft(y).tickValues(cfg.yTicks.slice(1, -1)).tickSize(-w).tickFormat(""))
    .attr("transform", `translate(${cfg.left},0)`)
    .call(s => s.select(".domain").remove())
    .call(s => s.selectAll("line").attr("stroke", "#e8e8e8"));

  // minor ticks inside the frame
  g.append("g").attr("transform", `translate(0,${cfg.bottom})`)
    .call(d3.axisBottom(x).tickValues(d3.range(4, 80, 4)).tickSize(-4).tickFormat(""))
    .call(s => s.select(".domain").remove())
    .call(s => s.selectAll("line").attr("stroke", "#9a9a9a"));
  g.append("g").attr("transform", `translate(${cfg.left},0)`)
    .call(d3.axisLeft(y).tickValues(d3.range(cfg.yDom[0], cfg.yDom[1], cfg.yMinor)).tickSize(-4).tickFormat(""))
    .call(s => s.select(".domain").remove())
    .call(s => s.selectAll("line").attr("stroke", "#9a9a9a"));

  // tick labels
  g.append("g").attr("transform", `translate(0,${cfg.bottom})`)
    .call(d3.axisBottom(x).tickValues(xTicks).tickSize(0).tickPadding(21))
    .call(s => s.select(".domain").remove())
    .call(s => s.selectAll("text").attr("font-size", 20).attr("font-family", FONT).attr("fill", "#1a1a1a"));
  g.append("g").attr("transform", `translate(${cfg.left},0)`)
    .call(d3.axisLeft(y).tickValues(cfg.yTicks).tickSize(0).tickPadding(13))
    .call(s => s.select(".domain").remove())
    .call(s => s.selectAll("text").attr("font-size", 20).attr("font-family", FONT).attr("fill", "#1a1a1a"));

  // axis titles
  g.append("text").attr("x", (cfg.left + cfg.right) / 2).attr("y", cfg.xTitleY)
    .attr("text-anchor", "middle").attr("dominant-baseline", "central")
    .attr("font-size", 19).attr("font-weight", "bold").attr("fill", "#111")
    .text("FCS Power, kW");
  const yt = g.append("text")
    .attr("transform", `translate(${cfg.yTitleX},${(cfg.top + cfg.bottom) / 2}) rotate(-90)`)
    .attr("text-anchor", "middle").attr("dominant-baseline", "central")
    .attr("font-size", 19).attr("font-weight", "bold").attr("fill", "#111");
  richText(yt, cfg.yTitle, 19);

  // caption
  const cap = g.append("text").attr("x", cfg.capX).attr("y", cfg.capY)
    .attr("text-anchor", "middle").attr("dominant-baseline", "central")
    .attr("font-size", 28).attr("fill", "#1a1a1a");
  richText(cap, cfg.caption, 28);

  const plot = g.append("g");
  const frame = () => g.append("rect")
    .attr("x", cfg.left).attr("y", cfg.top).attr("width", w).attr("height", cfg.bottom - cfg.top)
    .attr("fill", "none").attr("stroke", "#1c1c1c").attr("stroke-width", 2.2);
  return {g: plot, x, y, frame};
}

const triangle = d3.symbol(d3.symbolTriangle, 42)();
const diamond = d3.symbol(d3.symbolSquare, 31)();
const square = d3.symbol(d3.symbolSquare, 42)();

function markers(p, pts, path, color, rot, yScale, sw) {
  const ys = yScale || p.y;
  p.g.append("g").selectAll("path").data(pts).join("path")
    .attr("d", path)
    .attr("transform", d => `translate(${p.x(d[0])},${ys(d[1])})` + (rot ? " rotate(45)" : ""))
    .attr("fill", "none").attr("stroke", color).attr("stroke-width", sw || 1.45);
}

function curve(p, pts) {
  p.g.append("path").datum(pts)
    .attr("d", d3.line().x(d => p.x(d[0])).y(d => p.y(d[1])).curve(d3.curveMonotoneX))
    .attr("fill", "none").attr("stroke", MAROON).attr("stroke-width", 2.4);
}

function label(p, xv, yv, parts, color, anchor) {
  const t = p.g.append("text").attr("x", p.x(xv)).attr("y", p.y(yv))
    .attr("text-anchor", anchor || "middle").attr("dominant-baseline", "central")
    .attr("font-size", 20).attr("fill", color);
  richText(t, parts, 20);
}

// a) Parasitic Power
const pa = makePanel({left: 81, right: 624, top: 21, bottom: 365, yDom: [-6, 10], yTicks: aYTicks, yMinor: 0.4,
  xTitleY: 425, yTitleX: 22, yTitle: ["CEM Parasitic Power, kW"], caption: ["a) Parasitic Power"], capX: 338, capY: 450});
curve(pa, aCurve);
markers(pa, rowsToPts(aMotorRows).concat(aMotorPts), triangle, RED, false, null, 1.6);
markers(pa, rowsToPts(aGenRows).concat(aGenPts), diamond, NAVY, true);
label(pa, 53, 6.9, ["Motor Mode"], RED);
label(pa, 53, -4.73, ["Generator Mode"], NAVY);
pa.frame();

// b) O2 Utilization (CEM Mode)
const pb = makePanel({left: 703, right: 1213, top: 15, bottom: 354, yDom: [0, 60], yTicks: o2Ticks, yMinor: 2,
  xTitleY: 407, yTitleX: 647, yTitle: ["O", "_2", " Utilization, %"], caption: ["b) O", "_2", " Utilization (CEM Mode)"], capX: 963, capY: 450});
curve(pb, o2Limit);
markers(pb, rowsToPts(bRows).concat(bPts), diamond, NAVY, true, null, 1.75);
label(pb, 62.6, 25.1, ["CEM Mode"], NAVY);
pb.frame();

// c) O2 Utilization (CEMG Mode)
const pc = makePanel({left: 89, right: 602, top: 496, bottom: 838, yDom: [0, 60], yTicks: o2Ticks, yMinor: 2,
  xTitleY: 898, yTitleX: 32, yTitle: ["O", "_2", " Utilization, %"], caption: ["c) O", "_2", " Utilization (CEMG Mode)"], capX: 333, capY: 950});
curve(pc, o2Limit);
markers(pc, rowsToPts(cRows).concat(cPts), diamond, NAVY, true, null, 1.75);
label(pc, 55.7, 24.6, ["CEMG Mode"], NAVY);
pc.frame();

// d) H2 Utilization
const pd = makePanel({left: 720, right: 1156, top: 510, bottom: 843, yDom: [0, 100], yTicks: h2Ticks, yMinor: 4,
  xTitleY: 907, yTitleX: 660, yTitle: ["H", "_2", " Utilization (%)"], caption: ["d) H", "_2", " Utilization"], capX: 933, capY: 950});
const yEj = d3.scaleLinear().domain([0, 500]).range([843, 510]);
pd.g.append("g").attr("transform", "translate(1156,0)")
  .call(d3.axisRight(yEj).tickValues(ejTicks).tickSize(0).tickPadding(14))
  .call(s => s.select(".domain").remove())
  .call(s => s.selectAll("text").attr("font-size", 20).attr("font-family", FONT).attr("fill", "#1a1a1a"));
pd.g.append("g").attr("transform", "translate(1156,0)")
  .call(d3.axisLeft(yEj).tickValues(d3.range(0, 500, 20)).tickSize(4).tickFormat(""))
  .call(s => s.select(".domain").remove())
  .call(s => s.selectAll("line").attr("stroke", "#9a9a9a"));
pd.g.append("text").attr("transform", "translate(1230,676) rotate(-90)")
  .attr("text-anchor", "middle").attr("dominant-baseline", "central")
  .attr("font-size", 19).attr("font-weight", "bold").attr("fill", "#111")
  .text("Ejector Pumping Power, W");
markers(pd, rowsToPts(dH2Rows).concat(dH2Pts), diamond, NAVY, true, null, 1.55);
markers(pd, dEjZero.map(v => [v, 0]).concat(rowsToPts(dEjRows), dEjPts), square, RED, false, yEj);
label(pd, 10.1, 63, ["H", "_2", " Utilization"], NAVY, "start");
label(pd, 65.5, 13.2, ["Ejector"], RED, "start");
label(pd, 65.5, 6.3, ["Power"], RED, "start");
pd.frame();
</script>
</body>
</html>
